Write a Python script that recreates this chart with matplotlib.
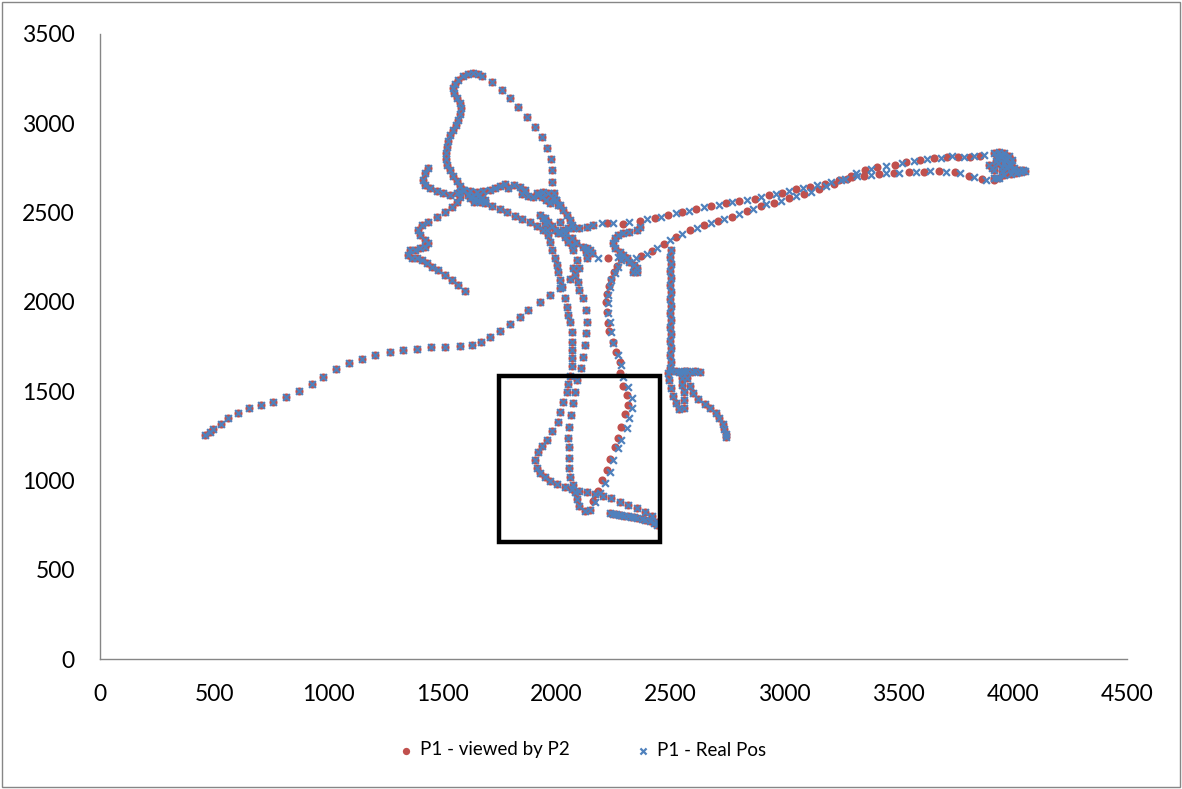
import matplotlib
matplotlib.use("Agg")
import matplotlib.pyplot as plt
from matplotlib.patches import Rectangle

# ---------------- data (x, y in chart units) ----------------
# segments where both series lie on top of each other
lowleft_x = [460, 482, 496, 528, 562, 605, 652, 705, 759, 814, 871, 927, 978, 1032, 1089, 1146, 1207, 1270,
             1328, 1389, 1452, 1510, 1576, 1632, 1671, 1710, 1751, 1795, 1839, 1875, 1926, 1970, 2014, 2058, 2101, 2136]
lowleft_y = [1254, 1273, 1286, 1316, 1348, 1379, 1404, 1421, 1439, 1469, 1502, 1542, 1581, 1626, 1656, 1682, 1704, 1721,
             1729, 1736, 1746, 1749, 1751, 1757, 1777, 1802, 1838, 1876, 1915, 1954, 1999, 2038, 2078, 2128, 2190, 2246]

loop_x = [1633, 1655, 1611, 1589, 1567, 1554, 1545, 1550, 1563, 1576, 1580, 1576, 1567, 1559, 1545, 1532, 1524, 1519,
          1515, 1515, 1519, 1532, 1545, 1563, 1576, 1594, 1672, 1716, 1760, 1795, 1830, 1869, 1904, 1935, 1957, 1974,
          1979, 1979, 1988, 1996, 2005]
loop_y = [3282, 3276, 3276, 3265, 3242, 3220, 3198, 3170, 3142, 3114, 3086, 3052, 3018, 2990, 2962, 2934, 2901, 2867,
          2834, 2800, 2766, 2738, 2705, 2677, 2649, 2626, 3265, 3231, 3186, 3142, 3091, 3035, 2979, 2923, 2862, 2800,
          2738, 2671, 2610, 2570, 2542]

hook_x = [1436, 1423, 1414, 1423, 1445, 1475, 1502, 1532, 1563, 1576, 1563, 1541, 1510, 1475, 1436, 1410, 1392, 1401,
          1423, 1436, 1423, 1401, 1379, 1357, 1348, 1366, 1388, 1410, 1432, 1453, 1480, 1510, 1541, 1567, 1598]
hook_y = [2750, 2722, 2682, 2654, 2638, 2621, 2610, 2598, 2610, 2615, 2559, 2531, 2503, 2475, 2447, 2430, 2402, 2374,
          2346, 2330, 2307, 2302, 2290, 2290, 2262, 2246, 2246, 2234, 2218, 2195, 2178, 2150, 2122, 2094, 2061]

hub1_x = [1589, 1620, 1651, 1677, 1707, 1729, 1751, 1773, 1611, 1629, 1642, 1655, 1672, 1686, 1664, 1638,
          1576, 1620, 1655, 1686, 1716, 1751, 1782, 1817, 1848, 1883, 1913, 1939]
hub1_y = [2626, 2621, 2615, 2621, 2626, 2638, 2649, 2660, 2598, 2587, 2576, 2593, 2582, 2570, 2559, 2559,
          2587, 2582, 2570, 2554, 2537, 2520, 2503, 2481, 2464, 2447, 2425, 2402]

hub2_x = [1786, 1813, 1839, 1861, 1848, 1874, 1896, 1918, 1935, 1953, 1970, 1983, 1961, 1939, 1913,
          1996, 2014, 2027, 2045, 2058, 2066, 2049, 2027, 2005, 1992, 1979, 1961, 1948, 2014, 2036, 2066, 2084]
hub2_y = [2638, 2654, 2643, 2626, 2604, 2593, 2587, 2598, 2587, 2570, 2554, 2582, 2610, 2615, 2610,
          2570, 2542, 2514, 2486, 2458, 2430, 2414, 2402, 2386, 2402, 2425, 2447, 2470, 2447, 2386, 2358, 2330]

bar_x = [2071, 2101, 2132, 2158, 2364, 2351, 2320, 2290, 2268, 2255, 2246, 2255, 2277, 2290, 2307, 2320, 2342, 2355,
         2351, 2334, 2115, 2132, 2145, 2154, 2128, 2014, 2036, 2049, 2066, 2071]
bar_y = [2414, 2414, 2419, 2430, 2419, 2402, 2391, 2386, 2374, 2358, 2330, 2302, 2279, 2262, 2246, 2223, 2206, 2190,
         2167, 2167, 2307, 2302, 2290, 2274, 2279, 2391, 2363, 2335, 2318, 2290]

chain_a_x = [1926, 1939, 1948, 1957, 1961, 1970, 1979, 1992, 2001, 2005, 2014, 2023, 2036, 2045, 2049, 2058, 2066,
             2066, 2066, 2066, 2066, 2058, 2049, 2045, 2027, 2014, 2005, 1979, 1957, 1935, 1918, 1904, 1913, 1926,
             1948, 1970, 2001, 2036, 2066, 2097, 2132, 2167, 2202, 2237, 2277, 2312, 2351, 2386, 2417, 2439]
chain_a_y = [2486, 2470, 2442, 2402, 2374, 2335, 2290, 2246, 2206, 2167, 2122, 2083, 2022, 1971, 1926, 1887, 1831,
             1775, 1730, 1686, 1641, 1585, 1540, 1495, 1439, 1383, 1327, 1277, 1226, 1193, 1159, 1114, 1070, 1042,
             1019, 997, 980, 963, 952, 941, 935, 924, 913, 902, 879, 862, 846, 823, 801, 767]

chain_b_x = [2088, 2071, 2080, 2093, 2101, 2115, 2128, 2132, 2128, 2123, 2115, 2106, 2088, 2080, 2071, 2062, 2053,
             2049, 2053, 2053, 2053, 2058, 2071, 2080, 2088, 2101, 2123, 2145]
chain_b_y = [2234, 2190, 2150, 2111, 2066, 2022, 1954, 1887, 1826, 1758, 1691, 1630, 1562, 1495, 1434, 1366, 1299,
             1238, 1187, 1126, 1070, 1019, 974, 935, 896, 857, 829, 834]

bottom_x = [2233, 2246, 2259, 2272, 2285, 2298, 2312, 2325, 2338, 2355, 2373, 2390, 2408, 2426, 2439]
bottom_y = [818, 812, 812, 806, 806, 801, 801, 795, 795, 790, 784, 778, 773, 762, 750]

vert_x = [2500, 2496, 2500, 2496, 2500, 2496, 2500, 2496, 2500, 2496, 2500, 2496, 2500, 2496, 2500, 2496, 2500, 2496]
vert_y = [2290, 2251, 2212, 2173, 2134, 2094, 2055, 2016, 1977, 1938, 1898, 1859, 1820, 1781, 1742, 1702, 1663, 1630]

hookr_x = [2487, 2491, 2500, 2509, 2522, 2539, 2557, 2561, 2557, 2552, 2552, 2548,
           2504, 2522, 2539, 2557, 2574, 2592, 2609, 2627,
           2574, 2587, 2600, 2622, 2649, 2675, 2697, 2714, 2728, 2736, 2741, 2745]
hookr_y = [1602, 1562, 1518, 1473, 1434, 1400, 1406, 1450, 1495, 1534, 1574, 1607,
           1613, 1613, 1610, 1613, 1613, 1610, 1613, 1610,
           1574, 1529, 1490, 1456, 1428, 1406, 1378, 1350, 1316, 1288, 1260, 1243]

knot_x = [3918, 3940, 3962, 3984, 3997, 3993, 3975, 3953, 3936, 3931, 3949, 3966, 3984, 4006, 4028, 4045, 4054,
          4036, 4015, 3993, 3962, 3940, 3918, 3953, 3910, 3896, 3918, 3960, 3975, 3945, 3925, 4000, 4020]
knot_y = [2834, 2839, 2834, 2817, 2794, 2766, 2750, 2755, 2778, 2806, 2811, 2794, 2772, 2750, 2738, 2738, 2733,
          2727, 2722, 2716, 2710, 2694, 2694, 2733, 2750, 2766, 2738, 2780, 2800, 2820, 2790, 2740, 2730]

# segments where the two series are visibly offset
real_right_x = [2167, 2189, 2211, 2233, 2246, 2268, 2285, 2307, 2320, 2329, 2329, 2312, 2290, 2285, 2268, 2246,
                2237, 2233, 2228, 2224, 2224, 2233, 2241, 2255, 2268, 2285]
real_right_y = [879, 930, 986, 1047, 1114, 1182, 1226, 1294, 1350, 1406, 1462, 1523, 1579, 1646, 1702, 1770,
                1831, 1887, 1938, 1994, 2038, 2083, 2122, 2162, 2195, 2234]
view_right_x = [2160, 2180, 2200, 2222, 2235, 2255, 2268, 2285, 2300, 2315, 2310, 2292, 2280, 2277, 2262, 2246,
                2230, 2225, 2220, 2218, 2220, 2230, 2238, 2252, 2265, 2282]
view_right_y = [885, 940, 1000, 1060, 1120, 1190, 1240, 1300, 1370, 1420, 1480, 1530, 1600, 1663, 1720, 1775,
                1835, 1882, 1945, 2000, 2045, 2090, 2130, 2170, 2200, 2240]

real_upper_x = [2198, 2246, 2320, 2395, 2460, 2522, 2583, 2648, 2714, 2771, 2837, 2898, 2960, 3021, 3082, 3143,
                3205, 3266, 3319]
real_upper_y = [2442, 2442, 2447, 2464, 2475, 2498, 2509, 2531, 2542, 2559, 2570, 2587, 2604, 2621, 2638, 2654,
                2671, 2688, 2705]
view_upper_x = [2220, 2290, 2364, 2430, 2487, 2552, 2613, 2679, 2745, 2802, 2868, 2930, 2990, 3050, 3112, 3175,
                3236, 3295]
view_upper_y = [2440, 2436, 2453, 2470, 2486, 2503, 2520, 2537, 2554, 2565, 2578, 2596, 2612, 2630, 2646, 2662,
                2680, 2697]

real_lower_x = [2180, 2268, 2347, 2395, 2439, 2496, 2552, 2618, 2679, 2736, 2802, 2860, 2920, 2986, 3051, 3117,
                3183, 3248]
real_lower_y = [2246, 2251, 2246, 2268, 2302, 2345, 2380, 2415, 2442, 2464, 2492, 2522, 2548, 2567, 2593, 2618,
                2649, 2680]
view_lower_x = [2224, 2307, 2370, 2420, 2470, 2525, 2585, 2645, 2710, 2770, 2835, 2895, 2955, 3020, 3085, 3150,
                3215, 3275]
view_lower_y = [2246, 2246, 2258, 2285, 2325, 2365, 2400, 2428, 2455, 2478, 2510, 2537, 2556, 2580, 2605, 2632,
                2662, 2690]

real_row1_x = [3380, 3446, 3515, 3568, 3625, 3686, 3734, 3787, 3831, 3875]
real_row1_y = [2745, 2761, 2778, 2788, 2800, 2806, 2817, 2811, 2817, 2822]
view_row1_x = [3350, 3406, 3482, 3533, 3595, 3656, 3712, 3760, 3810, 3858]
view_row1_y = [2738, 2755, 2766, 2783, 2794, 2806, 2811, 2811, 2811, 2817]

real_row2_x = [3314, 3380, 3446, 3502, 3577, 3638, 3708, 3770, 3831, 3883, 3931]
real_row2_y = [2722, 2710, 2722, 2722, 2727, 2733, 2727, 2722, 2699, 2682, 2694]
view_row2_x = [3292, 3349, 3415, 3481, 3546, 3612, 3678, 3748, 3809, 3866, 3918]
view_row2_y = [2705, 2705, 2716, 2722, 2727, 2727, 2733, 2727, 2705, 2688, 2682]

# highlighted region (rectangle drawn on the chart)
box_x = [1750, 2455]
box_y = [655, 1585]

x_ticks = [0, 500, 1000, 1500, 2000, 2500, 3000, 3500, 4000, 4500]
y_ticks = [0, 500, 1000, 1500, 2000, 2500, 3000, 3500]
series_names = ["P1 - viewed by P2", "P1 - Real Pos"]

# ---------------- assemble series ----------------
shared_x = (lowleft_x + loop_x + hook_x + hub1_x + hub2_x + bar_x + chain_a_x + chain_b_x + bottom_x
            + vert_x + hookr_x + knot_x)
shared_y = (lowleft_y + loop_y + hook_y + hub1_y + hub2_y + bar_y + chain_a_y + chain_b_y + bottom_y
            + vert_y + hookr_y + knot_y)
real_x = shared_x + real_right_x + real_upper_x + real_lower_x + real_row1_x + real_row2_x
real_y = shared_y + real_right_y + real_upper_y + real_lower_y + real_row1_y + real_row2_y
view_x = shared_x + view_right_x + view_upper_x + view_lower_x + view_row1_x + view_row2_x
view_y = shared_y + view_right_y + view_upper_y + view_lower_y + view_row1_y + view_row2_y
assert len(real_x) == len(real_y) and len(view_x) == len(view_y)

# ---------------- plot ----------------
plt.rcParams['font.family'] = ['Lato', 'DejaVu Sans']
RED = '#C0504D'
BLUE = '#4F81BD'
GREY = '#868686'

fig = plt.figure(figsize=(11.82, 7.89), dpi=100)
ax = fig.add_axes([100 / 1182, 130 / 789, 1027 / 1182, 625 / 789])

ax.scatter(view_x, view_y, s=34, marker='o', color=RED, linewidths=0, label=series_names[0], zorder=3)
ax.scatter(real_x, real_y, s=24, marker='x', color=BLUE, linewidths=1.6, label=series_names[1], zorder=4)

ax.add_patch(Rectangle((box_x[0], box_y[0]), box_x[1] - box_x[0], box_y[1] - box_y[0],
                       fill=False, edgecolor='black', linewidth=3.2, zorder=5))

ax.set_xlim(0, 4500)
ax.set_ylim(0, 3500)
ax.set_xticks(x_ticks)
ax.set_yticks(y_ticks)
for s in ['top', 'right']:
    ax.spines[s].set_visible(False)
for s in ['left', 'bottom']:
    ax.spines[s].set_color(GREY)
    ax.spines[s].set_linewidth(1.0)
ax.tick_params(axis='both', colors=GREY, length=0, labelsize=16.5, labelcolor='black')
ax.tick_params(axis='y', pad=18)
ax.tick_params(axis='x', pad=18)

leg = fig.legend(loc='center', bbox_to_anchor=(0.492, 1 - 750 / 789), ncol=2, frameon=False,
                 fontsize=13.5, handlelength=1.0, handletextpad=0.25, columnspacing=3.4, markerscale=0.9)

fig.add_artist(Rectangle((0.002, 0.002), 0.996, 0.996, transform=fig.transFigure, fill=False,
                         edgecolor=GREY, linewidth=1.0))

fig.savefig('out.png', dpi=100)
